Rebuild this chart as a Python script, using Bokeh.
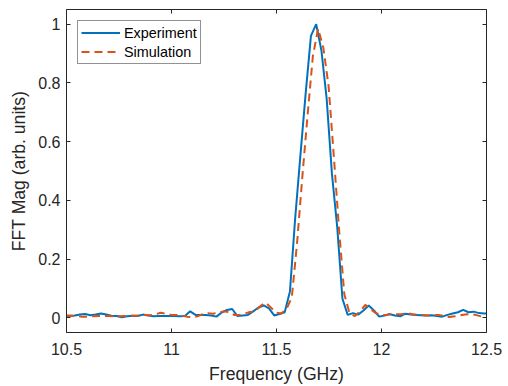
from bokeh.plotting import figure
from bokeh.models import LinearAxis, FixedTicker, Range1d, Legend, LegendItem
from bokeh.embed import file_html
from bokeh.resources import INLINE

# ---------------- data ----------------
exp_freq = [10.489, 10.514, 10.539, 10.564, 10.589, 10.614, 10.639, 10.664, 10.689, 10.714,
            10.739, 10.764, 10.789, 10.814, 10.839, 10.864, 10.889, 10.914, 10.939, 10.964,
            10.989, 11.014, 11.039, 11.064, 11.089, 11.114, 11.139, 11.164, 11.189, 11.214,
            11.239, 11.264, 11.289, 11.314, 11.339, 11.364, 11.389, 11.414, 11.439, 11.464,
            11.489, 11.514, 11.539, 11.564, 11.589, 11.614, 11.639, 11.664, 11.689, 11.714,
            11.739, 11.764, 11.789, 11.814, 11.839, 11.864, 11.889, 11.914, 11.939, 11.964,
            11.989, 12.014, 12.039, 12.064, 12.089, 12.114, 12.139, 12.164, 12.189, 12.214,
            12.239, 12.264, 12.289, 12.314, 12.339, 12.364, 12.389, 12.414, 12.439, 12.464,
            12.489, 12.514]
exp_mag = [0.007, 0.007, 0.008, 0.011, 0.013, 0.009, 0.011, 0.015, 0.011, 0.007,
           0.006, 0.002, 0.005, 0.007, 0.006, 0.011, 0.008, 0.005, 0.006, 0.006,
           0.006, 0.006, 0.005, 0.006, 0.022, 0.010, 0.010, 0.010, 0.008, 0.004,
           0.018, 0.027, 0.030, 0.006, 0.008, 0.010, 0.022, 0.035, 0.042, 0.032,
           0.008, 0.013, 0.019, 0.090, 0.340, 0.555, 0.765, 0.960, 1.000, 0.910,
           0.745, 0.490, 0.310, 0.065, 0.010, 0.016, 0.011, 0.025, 0.042, 0.025,
           0.004, 0.008, 0.012, 0.008, 0.005, 0.014, 0.011, 0.010, 0.009, 0.008,
           0.009, 0.006, 0.004, 0.010, 0.015, 0.019, 0.027, 0.019, 0.021, 0.016,
           0.015, 0.014]

sim_freq = [10.498, 10.523, 10.548, 10.573, 10.598, 10.623, 10.648, 10.673, 10.698, 10.723,
            10.748, 10.773, 10.798, 10.823, 10.848, 10.873, 10.898, 10.923, 10.948, 10.973,
            10.998, 11.023, 11.048, 11.073, 11.098, 11.123, 11.148, 11.173, 11.198, 11.223,
            11.248, 11.273, 11.298, 11.323, 11.348, 11.373, 11.398, 11.423, 11.448, 11.473,
            11.498, 11.523, 11.548, 11.573, 11.598, 11.623, 11.648, 11.673, 11.698, 11.723,
            11.748, 11.773, 11.798, 11.823, 11.848, 11.873, 11.898, 11.923, 11.948, 11.973,
            11.998, 12.023, 12.048, 12.073, 12.098, 12.123, 12.148, 12.173, 12.198, 12.223,
            12.248, 12.273, 12.298, 12.323, 12.348, 12.373, 12.398, 12.423, 12.448, 12.473,
            12.498, 12.523]
sim_mag = [0.007, 0.007, 0.006, 0.004, 0.004, 0.005, 0.006, 0.006, 0.006, 0.005,
           0.005, 0.006, 0.007, 0.007, 0.008, 0.010, 0.009, 0.012, 0.017, 0.014,
           0.010, 0.010, 0.008, 0.004, 0.002, 0.005, 0.012, 0.016, 0.014, 0.018,
           0.022, 0.020, 0.010, 0.010, 0.014, 0.020, 0.021, 0.040, 0.052, 0.035,
           0.018, 0.015, 0.030, 0.070, 0.255, 0.480, 0.690, 0.890, 0.985, 0.920,
           0.790, 0.550, 0.300, 0.080, 0.015, 0.006, 0.022, 0.044, 0.030, 0.016,
           0.010, 0.010, 0.014, 0.012, 0.013, 0.016, 0.012, 0.010, 0.009, 0.008,
           0.010, 0.010, 0.006, 0.003, 0.005, 0.008, 0.011, 0.013, 0.010, 0.005,
           0.002, 0.001]

x_ticks = [10.5, 11, 11.5, 12, 12.5]
x_tick_labels = ["10.5", "11", "11.5", "12", "12.5"]
y_ticks = [0, 0.2, 0.4, 0.6, 0.8, 1]
y_tick_labels = ["0", "0.2", "0.4", "0.6", "0.8", "1"]

series_names = ["Experiment", "Simulation"]
x_label = "Frequency (GHz)"
y_label = "FFT Mag (arb. units)"

# ---------------- styling ----------------
FONT = "Liberation Sans"
AX_COL = "#262626"
BLUE = "#0072BD"
ORANGE = "#D95319"

p = figure(width=508, height=386, output_backend="svg", toolbar_location=None,
           x_range=Range1d(10.5, 12.5), y_range=Range1d(-0.05, 1.05),
           x_axis_type=None, y_axis_type=None,
           min_border_left=66, min_border_right=22, min_border_top=9, min_border_bottom=54)
p.background_fill_color = "white"
p.border_fill_color = "white"
p.outline_line_color = None


def make_axis(ticks, labels, show_labels):
    ax = LinearAxis(ticker=FixedTicker(ticks=ticks))
    ax.axis_line_color = AX_COL
    ax.axis_line_width = 1
    ax.major_tick_line_color = AX_COL
    ax.major_tick_in = 4
    ax.major_tick_out = 0
    ax.minor_tick_line_color = None
    if show_labels:
        ax.major_label_overrides = {t: l for t, l in zip(ticks, labels)}
        ax.major_label_text_font = FONT
        ax.major_label_text_font_size = "16px"
        ax.major_label_text_color = AX_COL
    else:
        # box-style frame: ticks only, no labels drawn
        ax.major_label_text_color = None
        ax.major_label_text_font_size = "1px"
        ax.major_label_standoff = 0
    return ax


xb = make_axis(x_ticks, x_tick_labels, True)
xb.axis_label = x_label
xb.axis_label_text_font = FONT
xb.axis_label_text_font_size = "17.6px"
xb.axis_label_text_font_style = "normal"
xb.axis_label_text_color = AX_COL
xb.major_label_standoff = 10
xb.axis_label_standoff = 6
p.add_layout(xb, "below")

yl = make_axis(y_ticks, y_tick_labels, True)
yl.axis_label = y_label
yl.axis_label_text_font = FONT
yl.axis_label_text_font_size = "17.6px"
yl.axis_label_text_font_style = "normal"
yl.axis_label_text_color = AX_COL
yl.major_label_standoff = 6
yl.axis_label_standoff = 6
p.add_layout(yl, "left")

p.add_layout(make_axis(x_ticks, x_tick_labels, False), "above")
p.add_layout(make_axis(y_ticks, y_tick_labels, False), "right")

p.xgrid.ticker = FixedTicker(ticks=x_ticks)
p.ygrid.ticker = FixedTicker(ticks=y_ticks)
for g in (p.xgrid, p.ygrid):
    g.grid_line_color = "#e3e3e3"
    g.grid_line_width = 1

r1 = p.line(exp_freq, exp_mag, line_color=BLUE, line_width=2)
r2 = p.line(sim_freq, sim_mag, line_color=ORANGE, line_width=2, line_dash="8 5")

legend = Legend(items=[LegendItem(label=series_names[0], renderers=[r1]),
                       LegendItem(label=series_names[1], renderers=[r2])],
                location="top_left", margin=11, padding=3, spacing=2,
                glyph_width=39, glyph_height=17, label_height=17, label_standoff=4,
                label_text_font=FONT, label_text_font_size="14.4px", label_text_color="black",
                border_line_color=AX_COL, border_line_width=1,
                background_fill_color="white", background_fill_alpha=1)
p.add_layout(legend)

open("out.html", "w").write(file_html(p, INLINE))
